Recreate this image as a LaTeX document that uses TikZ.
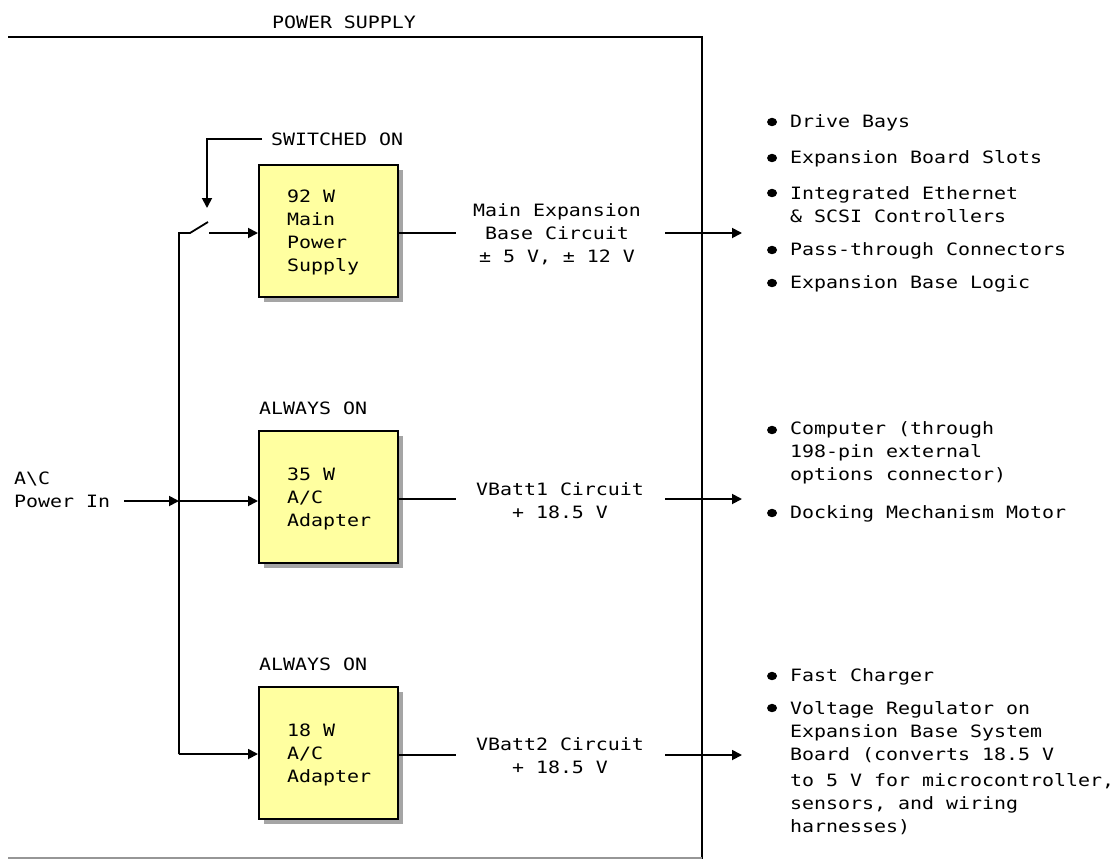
\documentclass[tikz,border=0pt]{standalone}
\usepackage{fontspec}
\setmainfont{DejaVu Sans Mono}[FakeStretch=1.172]
\usetikzlibrary{arrows.meta,shadows}
\definecolor{boxyellow}{RGB}{255,255,160}
\definecolor{shadowgray}{RGB}{165,165,165}
\definecolor{framegray}{RGB}{150,150,150}
\begin{document}
\begin{tikzpicture}[x=1pt,y=-1pt,
  txt/.style={font=\fontsize{17}{23}\selectfont, inner sep=0pt, align=left, anchor=west},
  ctxt/.style={font=\fontsize{17}{23}\selectfont, inner sep=0pt, align=center},
  psbox/.style={draw, line width=2pt, fill=boxyellow, minimum width=139pt, minimum height=132pt, inner sep=0pt,
    drop shadow={shadow xshift=5pt, shadow yshift=-5pt, fill=shadowgray, opacity=1}},
  wire/.style={line width=1.8pt},
  arr/.style={wire, -{Triangle[length=10pt,width=10pt]}},
  bul/.style={fill=black}]
\useasboundingbox (0,0) rectangle (1115,859);
% frame
\node[ctxt] (title) at (344,22) {POWER SUPPLY};
\draw[line width=2.2pt] (8,37) -- (702,37) -- (702,859);
\draw[line width=1.8pt, framegray] (8,858) -- (702,858);
% boxes
\node[psbox] (b1) at (328.5,231) {};
\node[psbox] (b2) at (328.5,497) {};
\node[psbox] (b3) at (328.5,753) {};
\node[txt] (t1) at (287,232) {92 W\\Main\\Power\\Supply};
\node[txt] (t2) at (287,499) {35 W\\A/C\\Adapter};
\node[txt] (t3) at (287,755) {18 W\\A/C\\Adapter};
\node[txt] (sw) at (271,139) {SWITCHED ON};
\node[txt] (aon2) at (259,408) {ALWAYS ON};
\node[txt] (aon3) at (259,664) {ALWAYS ON};
\node[txt] (acin) at (14,490) {A\textbackslash C\\Power In};
% switched-on indicator
\coordinate (s0) at (262,139);
\coordinate (s1) at (207,139);
\coordinate (s2) at (207,208);
\draw[arr] (s0) -- (s1) -- (s2);
% bus and switch
\coordinate (bt) at (179,233);
\coordinate (bm) at (179,501);
\coordinate (bb) at (179,754);
\coordinate (pin) at (124,501);
\coordinate (k1) at (190,233);
\coordinate (k2) at (208,222);
\coordinate (k3) at (209,233);
\draw[wire] (k2) -- (k1) -- (bt) -- (bb);
\draw[arr] (k3) -- (k3 -| b1.west);
\draw[arr] (pin) -- (bm);
\draw[arr] (bm) -- (bm -| b2.west);
\draw[arr] (bb) -- (bb -| b3.west);
% output labels
\node[ctxt] (o1) at (557,234) {Main Expansion\\Base Circuit\\± 5 V, ± 12 V};
\node[ctxt] (o2) at (560,501) {VBatt1 Circuit\\+ 18.5 V};
\node[ctxt] (o3) at (560,756) {VBatt2 Circuit\\+ 18.5 V};
\coordinate (a1) at (456,233); \coordinate (c1) at (665,233); \coordinate (e1) at (742,233);
\coordinate (a2) at (456,499); \coordinate (c2) at (665,499); \coordinate (e2) at (742,499);
\coordinate (a3) at (456,755); \coordinate (c3) at (665,755); \coordinate (e3) at (742,755);
\draw[wire] (a1 -| b1.east) -- (a1);
\draw[arr] (c1) -- (e1);
\draw[wire] (a2 -| b2.east) -- (a2);
\draw[arr] (c2) -- (e2);
\draw[wire] (a3 -| b3.east) -- (a3);
\draw[arr] (c3) -- (e3);
% lists
\node[txt] (l1) at (790,123) {Drive Bays};
\node[txt] (l2) at (790,159) {Expansion Board Slots};
\node[txt] (l3) at (790,205) {Integrated Ethernet\\\& SCSI Controllers};
\node[txt] (l4) at (790,251) {Pass-through Connectors};
\node[txt] (l5) at (790,284) {Expansion Base Logic};
\node[txt] (m1) at (790,453) {Computer (through\\198-pin external\\options connector)};
\node[txt] (m2) at (790,514) {Docking Mechanism Motor};
\node[txt] (n1) at (790,677) {Fast Charger};
\node[txt] (n2) at (790,768) {Voltage Regulator on\\Expansion Base System\\Board (converts 18.5 V\\[3pt]to 5 V for microcontroller,\\sensors, and wiring\\harnesses)};
\foreach \yy in {122,158,193,250,283,430,513,676,708}
  \fill[bul] (772,\yy) ellipse [x radius=5pt, y radius=4.2pt];
\end{tikzpicture}
\end{document}
